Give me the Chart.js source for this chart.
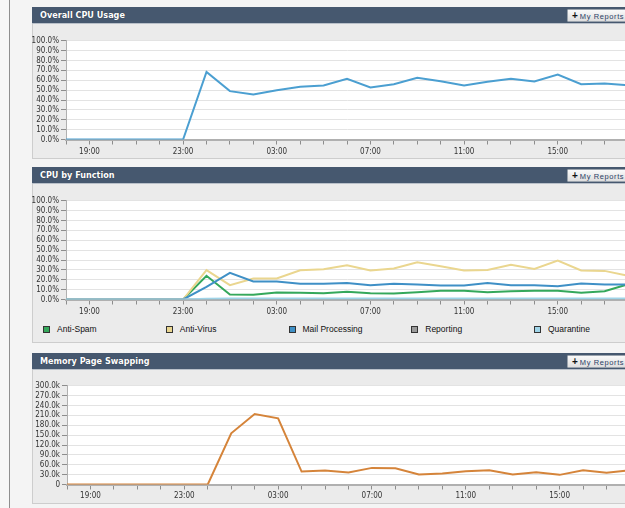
<!DOCTYPE html>
<html lang="en">
<head>
<meta charset="UTF-8">
<title>System Status</title>
<style>
  body {
    margin: 0;
    width: 625px;
    height: 508px;
    overflow: hidden;
    position: relative;
    background: #f4f4f4;
    font-family: "DejaVu Sans Condensed", "DejaVu Sans", sans-serif;
  }
  .rail {
    position: absolute; left: 0; top: 0; width: 9px; height: 508px;
    background: #f7f7f7; border-right: 1px solid #8f8f8f;
  }
  .panel {
    position: absolute; left: 32px; width: 612px;
    background: #ebebeb; border: 1px solid #cdcdcd; border-top: none;
    box-sizing: border-box;
  }
  .head {
    position: relative; height: 16px; margin: 0 -1px;
    background: #46586f; color: #fff;
    font-weight: bold; font-size: 9px; line-height: 16px;
    padding-left: 8px; text-shadow: 0 0 1px #26303e;
    border-bottom: 1px solid #b9c0c9;
  }
  .btn {
    position: absolute; left: 535px; top: 2px; width: 70px; height: 11px;
    background: linear-gradient(#fafafa, #dedede);
    border: 1px solid #9aa3ad; border-radius: 1px;
    font-family: "Liberation Sans", sans-serif;
    font-weight: normal; font-size: 7.5px; line-height: 11px;
    color: #2b3f66; text-shadow: none; letter-spacing: 0.6px;
  }
  .btn b { color: #111; font-size: 10px; margin: 0 2px 0 4px; letter-spacing: 0; }
  canvas { position: absolute; }
  .legend {
    position: absolute; left: 43px; top: 324px; display: flex;
    font-family: "Liberation Sans", sans-serif; font-size: 8.5px; color: #111;
  }
  .legend span { width: 122.75px; display: flex; align-items: center; height: 10px; }
  .legend i {
    display: inline-block; width: 5px; height: 5px; margin-right: 7px;
    border: 1px solid #333;
  }
</style>
</head>
<body>
<div class="rail"></div>

<div class="panel" style="top:7px;height:152px">
  <div class="head">Overall CPU Usage<div class="btn"><b>+</b>My Reports</div></div>
</div>
<div class="panel" style="top:167px;height:176px">
  <div class="head">CPU by Function<div class="btn"><b>+</b>My Reports</div></div>
</div>
<div class="panel" style="top:353px;height:151px">
  <div class="head">Memory Page Swapping<div class="btn"><b>+</b>My Reports</div></div>
</div>

<canvas id="cpuChart" width="600" height="126" style="left:32px;top:34px"></canvas>
<canvas id="funcChart" width="600" height="126" style="left:32px;top:194px"></canvas>
<div class="legend" id="funcLegend"></div>
<canvas id="swapChart" width="600" height="124" style="left:32px;top:379px"></canvas>

<script src="https://cdn.jsdelivr.net/npm/chart.js"></script>
<script>
// hourly samples, 18:00 to 18:00 next day
const hours = ['18:00', '19:00', '20:00', '21:00', '22:00', '23:00', '00:00', '01:00',
  '02:00', '03:00', '04:00', '05:00', '06:00', '07:00', '08:00', '09:00', '10:00',
  '11:00', '12:00', '13:00', '14:00', '15:00', '16:00', '17:00', '18:00'];

const cpuTotal = [0, 0, 0, 0, 0, 0, 68.5, 49, 45.5, 50, 53.5, 54.7, 61.5, 52.7, 56,
  62.5, 59, 54.7, 58.4, 61.5, 58.8, 65.9, 56, 56.8, 55];

const functionNames = ['Anti-Spam', 'Anti-Virus', 'Mail Processing', 'Reporting', 'Quarantine'];
const antiSpam = [0, 0, 0, 0, 0, 0, 24, 5.1, 4.7, 7.1, 6.8, 6.4, 7.8, 6.4, 6.1, 7.4,
  8.8, 8.8, 7.4, 8.4, 8.8, 8.8, 6.8, 8.4, 15.5];
const antiVirus = [0, 0, 0, 0, 0, 0, 29.7, 14.5, 21.3, 21.3, 29.7, 30.7, 34.8, 29.4,
  31.4, 37.8, 33.8, 29.4, 30, 35.1, 31, 39.5, 29.4, 29, 24];
const mailProcessing = [0, 0, 0, 0, 0, 0, 12.8, 27, 18.2, 18.2, 15.9, 15.9, 16.6, 14.5,
  15.9, 15.2, 14.2, 14.2, 16.6, 14.5, 14.5, 13.5, 16.2, 15.2, 15.2];
const reporting = [0, 0, 0, 0, 0, 0, 0, 0, 0, 0, 0, 0, 0, 0, 0, 0, 0, 0, 0, 0, 0, 0, 0, 0, 0];
const quarantine = [0, 0, 0, 0, 0, 0, 0.8, 1, 1, 1, 1, 1, 1, 1, 1, 1, 1, 1, 1, 1, 1, 1, 1, 1, 1];

const pageSwaps = [0, 0, 0, 0, 0, 0, 0, 155600, 214000, 201000, 39400, 42400, 36400,
  50500, 49500, 30300, 33300, 40400, 43400, 30300, 37400, 29300, 43400, 35400, 43400];

const functionColors = ['#35a85b', '#ead68f', '#3f90c6', '#9a9a9a', '#9fd4e8'];

Chart.defaults.font.family = '"DejaVu Sans Condensed", "DejaVu Sans", sans-serif';
Chart.defaults.font.size = 8;
Chart.defaults.color = '#333';

// white plot background inside the grey panels
const plotBg = {
  id: 'plotBg',
  beforeDraw(chart) {
    const { ctx, chartArea: a } = chart;
    ctx.save();
    ctx.fillStyle = '#fff';
    ctx.fillRect(a.left, a.top, a.right - a.left, a.bottom - a.top);
    ctx.restore();
  }
};

function makeOptions(o) {
  return {
    responsive: false,
    animation: false,
    layout: { padding: { top: 6.5, right: o.padRight, bottom: 0, left: 0 } },
    elements: { point: { radius: 0 }, line: { tension: 0, borderWidth: 2 } },
    plugins: { legend: { display: false }, tooltip: { enabled: false } },
    scales: {
      x: {
        afterFit: s => { s.height = o.xHeight; },
        grid: { drawOnChartArea: false, tickLength: 5, tickColor: '#8d8d8d' },
        border: { color: '#b0b0b0', width: 2 },
        ticks: {
          autoSkip: false, maxRotation: 0, padding: o.labelPad,
          callback: (v, i) => (i % 4 === 1 ? hours[i] : '')
        }
      },
      y: {
        min: 0, max: o.max,
        afterFit: s => { s.width = o.yWidth; },
        grid: { color: '#e3e3e3', tickLength: 5, tickColor: '#8d8d8d' },
        border: { color: '#b0b0b0' },
        ticks: { stepSize: o.step, autoSkip: false, padding: 2, callback: o.fmt }
      }
    }
  };
}

const pct = v => v.toFixed(1) + '%';
const kilo = v => (v === 0 ? '0' : (v / 1000).toFixed(1) + 'k');

new Chart(document.getElementById('cpuChart'), {
  type: 'line',
  data: {
    labels: hours,
    datasets: [{ label: 'CPU', data: cpuTotal, borderColor: '#4b9fd1' }]
  },
  options: makeOptions({ padRight: 4, xHeight: 20.5, labelPad: 3, yWidth: 34, max: 100, step: 10, fmt: pct }),
  plugins: [plotBg]
});

// first dataset is painted on top, so Quarantine goes first
const funcSeries = [antiSpam, antiVirus, mailProcessing, reporting, quarantine];
const funcDatasets = funcSeries.map((d, i) => ({
  label: functionNames[i],
  data: d,
  borderColor: functionColors[i]
})).reverse();

new Chart(document.getElementById('funcChart'), {
  type: 'line',
  data: { labels: hours, datasets: funcDatasets },
  options: makeOptions({ padRight: 4, xHeight: 20.5, labelPad: 3, yWidth: 34, max: 100, step: 10, fmt: pct }),
  plugins: [plotBg]
});

// legend row under the function chart
document.getElementById('funcLegend').innerHTML = functionNames
  .map((n, i) => `<span><i style="background:${functionColors[i]}"></i>${n}</span>`)
  .join('');

new Chart(document.getElementById('swapChart'), {
  type: 'line',
  data: {
    labels: hours,
    datasets: [{ label: 'Page Swaps', data: pageSwaps, borderColor: '#d5843a' }]
  },
  options: makeOptions({ padRight: 1.5, xHeight: 18.5, labelPad: 2, yWidth: 35, max: 300000, step: 30000, fmt: kilo }),
  plugins: [plotBg]
});
</script>
</body>
</html>
